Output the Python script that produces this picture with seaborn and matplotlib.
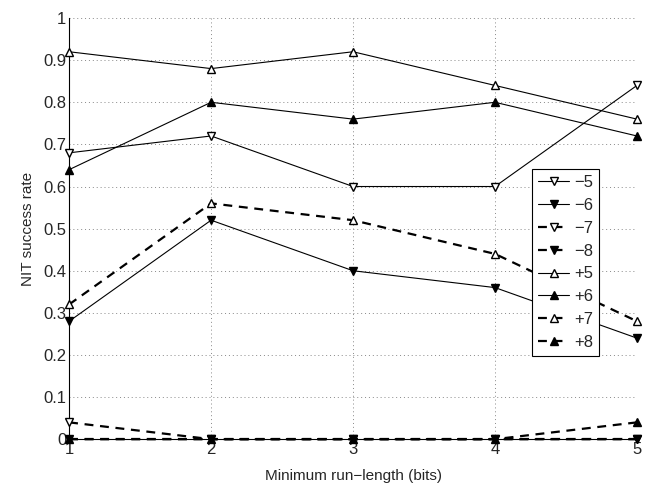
import matplotlib
matplotlib.use("Agg")
import matplotlib.pyplot as plt
import seaborn as sns
import pandas as pd

x_vals = [1, 2, 3, 4, 5]
labels = ["\u22125", "\u22126", "\u22127", "\u22128", "+5", "+6", "+7", "+8"]
s_m5 = [0.68, 0.72, 0.60, 0.60, 0.84]
s_m6 = [0.28, 0.52, 0.40, 0.36, 0.24]
s_m7 = [0.04, 0.00, 0.00, 0.00, 0.00]
s_m8 = [0.00, 0.00, 0.00, 0.00, 0.00]
s_p5 = [0.92, 0.88, 0.92, 0.84, 0.76]
s_p6 = [0.64, 0.80, 0.76, 0.80, 0.72]
s_p7 = [0.32, 0.56, 0.52, 0.44, 0.28]
s_p8 = [0.00, 0.00, 0.00, 0.00, 0.04]
series = [s_m5, s_m6, s_m7, s_m8, s_p5, s_p6, s_p7, s_p8]
y_ticks = [0, 0.1, 0.2, 0.3, 0.4, 0.5, 0.6, 0.7, 0.8, 0.9, 1]
y_ticklabels = ["0", "0.1", "0.2", "0.3", "0.4", "0.5", "0.6", "0.7", "0.8", "0.9", "1"]

sns.set_style("white")
plt.rcParams["font.family"] = ["Liberation Sans", "DejaVu Sans"]

fig = plt.figure(figsize=(6.46, 4.88), dpi=100)
ax = fig.add_axes([0.107, 0.100, 0.879, 0.863])

styles = [
    ("v", "white", "-", 0.8),
    ("v", "black", "-", 0.8),
    ("v", "white", (0, (4, 3)), 1.6),
    ("v", "black", (0, (4, 3)), 1.6),
    ("^", "white", "-", 0.8),
    ("^", "black", "-", 0.8),
    ("^", "white", (0, (4, 3)), 1.6),
    ("^", "black", (0, (4, 3)), 1.6),
]

for lab, ys, (mk, fc, ls, lw) in zip(labels, series, styles):
    sns.lineplot(x=x_vals, y=ys, ax=ax, color="black", linestyle=ls, linewidth=lw,
                 marker=mk, markersize=5.5, markerfacecolor=fc, markeredgecolor="black",
                 markeredgewidth=1.0, label=lab, clip_on=False, zorder=3)

ax.set_xlim(1, 5)
ax.set_ylim(0, 1)
ax.set_xticks(x_vals)
ax.set_xticklabels([str(v) for v in x_vals])
ax.set_yticks(y_ticks)
ax.set_yticklabels(y_ticklabels)
ax.tick_params(direction="in", length=4, labelsize=12, pad=2, color="black")
ax.grid(True, linestyle=(0, (1, 3)), color="#888888", linewidth=0.7)
for side in ["top", "right"]:
    ax.spines[side].set_visible(False)
for side in ["left", "bottom"]:
    ax.spines[side].set_color("black")
    ax.spines[side].set_linewidth(0.8)
ax.set_xlabel("Minimum run\u2212length (bits)", fontsize=11, labelpad=9)
ax.set_ylabel("NIT success rate", fontsize=11, labelpad=6)

leg = ax.legend(loc="upper left", bbox_to_anchor=(0.815, 0.641), fontsize=12,
                frameon=True, fancybox=False, edgecolor="black", framealpha=1,
                handlelength=1.9, handletextpad=0.3, labelspacing=0.47,
                borderpad=0.35, borderaxespad=0)
leg.get_frame().set_linewidth(0.8)

fig.savefig("out.png", dpi=100)
